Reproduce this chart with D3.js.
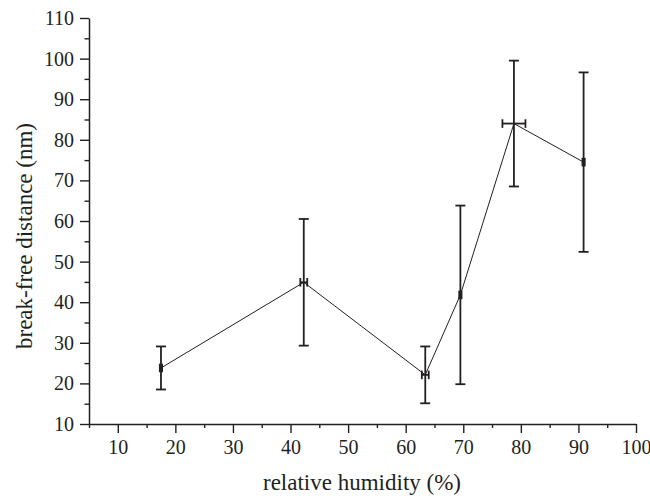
<!DOCTYPE html>
<html>
<head>
<meta charset="utf-8">
<script src="https://cdn.jsdelivr.net/npm/d3@7"></script>
<style>
  html, body { margin: 0; padding: 0; background: #fff; }
  svg { display: block; }
  text { font-family: "Liberation Serif", "Times New Roman", serif; fill: #231f20; }
</style>
</head>
<body>
<svg id="chart" width="650" height="498"></svg>
<script>
// ---- data ----
const humidity = [17.5, 42.3, 63.4, 69.5, 78.8, 90.9];      // relative humidity (%)
const distance = [23.8, 44.9, 22.1, 41.8, 84.0, 74.5];      // break-free distance (nm)
const distanceErr = [5.3, 15.6, 7.0, 22.0, 15.5, 22.1];     // ± y error
const humidityErr = [0.2, 0.6, 0.6, 0.2, 2.0, 0.2];         // ± x error
const xMajorTicks = [10, 20, 30, 40, 50, 60, 70, 80, 90, 100];
const xMinorTicks = [5, 15, 25, 35, 45, 55, 65, 75, 85, 95];
const yMajorTicks = [10, 20, 30, 40, 50, 60, 70, 80, 90, 100, 110];
const yMinorTicks = [15, 25, 35, 45, 55, 65, 75, 85, 95, 105];
const xTitle = "relative humidity (%)";
const yTitle = "break-free distance (nm)";

const ink = "#231f20";
const svg = d3.select("#chart");

const x = d3.scaleLinear().domain([5, 100]).range([89, 636]);
const y = d3.scaleLinear().domain([10, 110]).range([424, 18]);

const points = humidity.map((h, i) => ({
  x: h, y: distance[i], ey: distanceErr[i], ex: humidityErr[i]
}));

// ---- axes ----
const gx = svg.append("g").attr("transform", `translate(0,${y(10)})`);
gx.call(d3.axisBottom(x).tickValues(xMajorTicks).tickSize(9).tickSizeOuter(0).tickPadding(7).tickFormat(d3.format("d")));
const gxm = svg.append("g").attr("transform", `translate(0,${y(10)})`);
gxm.call(d3.axisBottom(x).tickValues(xMinorTicks).tickSize(4).tickSizeOuter(0).tickFormat(""));
gxm.select(".domain").remove();

const gy = svg.append("g").attr("transform", `translate(${x(5)},0)`);
gy.call(d3.axisLeft(y).tickValues(yMajorTicks).tickSize(9).tickSizeOuter(0).tickPadding(6).tickFormat(d3.format("d")));
const gym = svg.append("g").attr("transform", `translate(${x(5)},0)`);
gym.call(d3.axisLeft(y).tickValues(yMinorTicks).tickSize(4.5).tickSizeOuter(0).tickFormat(""));
gym.select(".domain").remove();

svg.selectAll(".domain").attr("stroke", ink).attr("stroke-width", 1.5);
svg.selectAll(".tick line").attr("stroke", ink).attr("stroke-width", 1.4);
svg.selectAll(".tick text")
  .attr("fill", ink)
  .style("font-family", "'Liberation Serif', 'Times New Roman', serif")
  .style("font-size", "20px");

// ---- connecting line ----
const line = d3.line().x(d => x(d.x)).y(d => y(d.y));
svg.append("path")
  .datum(points)
  .attr("d", line)
  .attr("fill", "none")
  .attr("stroke", ink)
  .attr("stroke-width", 1);

// ---- error bars ----
const capW = 5, capH = 4.3;
const eb = svg.append("g").attr("stroke", ink).attr("stroke-width", 1.8).attr("fill", "none");
points.forEach(d => {
  const cx = x(d.x), cy = y(d.y);
  const yt = y(d.y + d.ey), yb = y(d.y - d.ey);
  eb.append("line").attr("x1", cx).attr("x2", cx).attr("y1", yt).attr("y2", yb);
  eb.append("line").attr("x1", cx - capW).attr("x2", cx + capW).attr("y1", yt).attr("y2", yt);
  eb.append("line").attr("x1", cx - capW).attr("x2", cx + capW).attr("y1", yb).attr("y2", yb);
  const xl = x(d.x - d.ex), xr = x(d.x + d.ex);
  eb.append("line").attr("x1", xl).attr("x2", xr).attr("y1", cy).attr("y2", cy);
  eb.append("line").attr("x1", xl).attr("x2", xl).attr("y1", cy - capH).attr("y2", cy + capH);
  eb.append("line").attr("x1", xr).attr("x2", xr).attr("y1", cy - capH).attr("y2", cy + capH);
});

// ---- titles ----
svg.append("text")
  .attr("x", 362).attr("y", 490)
  .attr("text-anchor", "middle")
  .style("font-size", "23px")
  .text(xTitle);

svg.append("text")
  .attr("transform", "translate(32,236) rotate(-90)")
  .attr("text-anchor", "middle")
  .style("font-size", "23px")
  .text(yTitle);
</script>
</body>
</html>
